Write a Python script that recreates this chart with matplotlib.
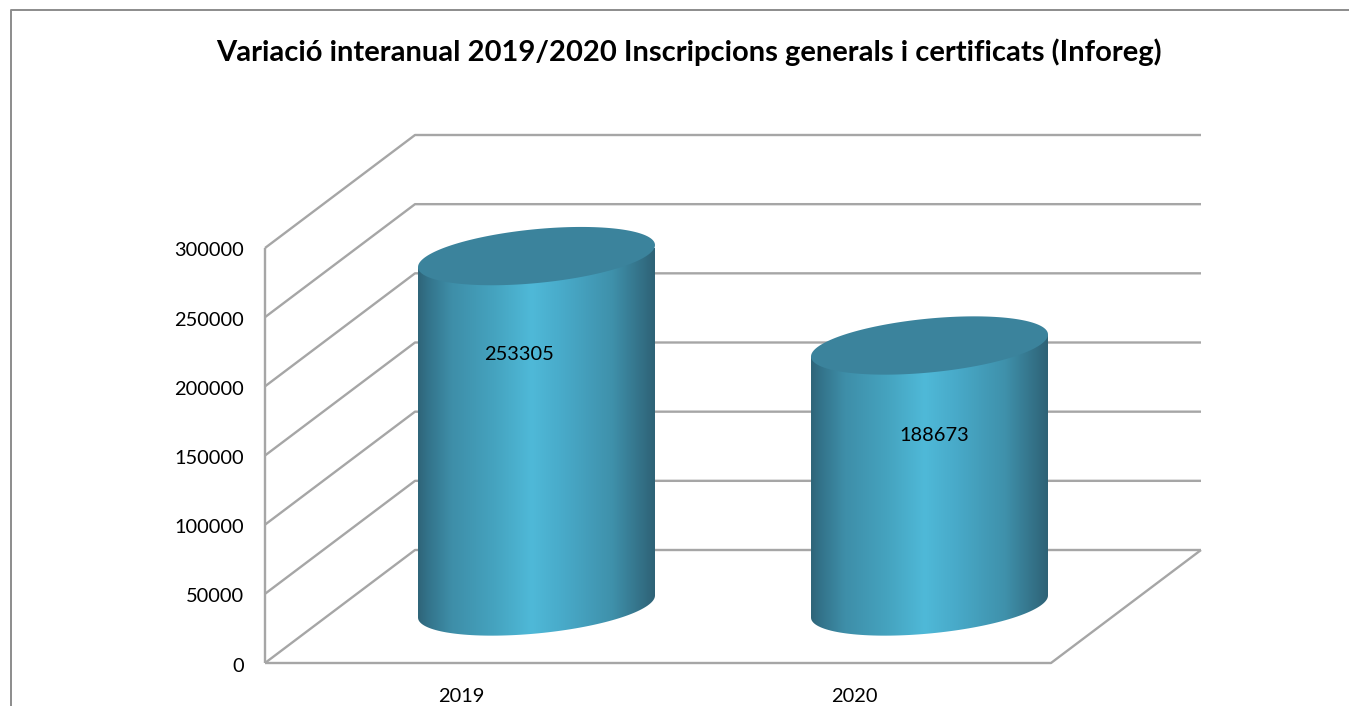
import numpy as np
from matplotlib import pyplot as plt
from matplotlib.colors import LinearSegmentedColormap
from matplotlib.lines import Line2D
from matplotlib.patches import Polygon

years = ['2019', '2020']
inscriptions = [253305, 188673]
y_ticks = [0, 50000, 100000, 150000, 200000, 250000, 300000]
title = 'Variació interanual 2019/2020 Inscripcions generals i certificats (Inforeg)'

GRID = '#a6a6a6'
TOP_COLOR = '#3b839c'
FONT = 'Lato'

W, H = 1349, 706
fig = plt.figure(figsize=(W / 100, H / 100), dpi=100)

# axes cover the front plane of the 3D box
left, right, bottom, top = 265, 1051, 663, 248
ax = fig.add_axes([left / W, 1 - bottom / H, (right - left) / W, (bottom - top) / H])
ax.set_xlim(-0.5, 1.5)
ax.set_ylim(0, 300000)
ax.axis('off')

# pixel to data scale
px_x = 2 / (right - left)
px_y = 300000 / (bottom - top)
depth_x, depth_y = 150 * px_x, 113 * px_y
x0, x1 = -0.5, 1.5


def line(xs, ys, z=1):
    ax.plot(xs, ys, color=GRID, lw=1.7, zorder=z, clip_on=False, solid_capstyle='butt')


# walls and grid
for t in y_ticks:
    line([x0, x0 + depth_x, x1 + depth_x], [t, t + depth_y, t + depth_y])
line([x0, x0], [0, 300000])
line([x0, x1, x1 + depth_x], [0, 0, depth_y])

cmap = LinearSegmentedColormap.from_list('cyl', [
    (0.0, '#2f6579'), (0.04, '#33738a'), (0.14, '#3e8ea8'), (0.32, '#45a3bf'),
    (0.48, '#4fb9d8'), (0.62, '#48a9c8'), (0.82, '#3f91ab'), (0.95, '#336f85'), (1.0, '#2e6276'),
])

half_w = 118.5 * px_x
tilt = 11 * px_y
half_h = 27 * px_y
t_arc = np.linspace(np.pi, 0, 80)
t_full = np.linspace(0, 2 * np.pi, 160)

for i, (year, value) in enumerate(zip(years, inscriptions)):
    cx = i + depth_x / 2
    base = depth_y / 2

    # lower arc of the bottom ellipse, then up to the top ellipse
    arc_x = cx + half_w * np.cos(t_arc)
    arc_y = base + tilt * np.cos(t_arc) - half_h * np.sin(t_arc)
    body_x = np.r_[cx - half_w, arc_x, cx + half_w]
    body_y = np.r_[base + value - tilt, arc_y, base + value + tilt]
    body = Polygon(np.c_[body_x, body_y], closed=True, transform=ax.transData, fc='none', ec='none')
    ax.add_patch(body)
    im = ax.imshow(np.linspace(0, 1, 256).reshape(1, -1), cmap=cmap, aspect='auto', zorder=3,
                   extent=[cx - half_w, cx + half_w, 0, base + value + 2 * half_h])
    im.set_clip_path(body)

    top_x = cx + half_w * np.cos(t_full)
    top_y = base + value + tilt * np.cos(t_full) + half_h * np.sin(t_full)
    ax.fill(top_x, top_y, color=TOP_COLOR, lw=0, zorder=4, clip_on=False)

ax.set_xlim(-0.5, 1.5)
ax.set_ylim(0, 300000)

# labels, placed by hand in the original
label_offsets = [(-18, -98), (5, -90)]
for i, value in enumerate(inscriptions):
    ax.annotate(str(value), (i + depth_x / 2, depth_y / 2 + value), xytext=label_offsets[i],
                textcoords='offset pixels', ha='center', va='center', fontsize=14.4,
                family=FONT, color='black', zorder=5)

for t in y_ticks:
    ax.annotate(str(t), (x0, t), xytext=(-21, -3), textcoords='offset pixels', ha='right',
                va='center', fontsize=14.4, family=FONT, color='black', annotation_clip=False)

for i, year in enumerate(years):
    ax.annotate(year, (i, 0), xytext=(0, -34), textcoords='offset pixels', ha='center',
                va='center', fontsize=14.4, family=FONT, color='black', annotation_clip=False)

fig.text(689 / W, 1 - 52 / H, title, ha='center', va='center', fontsize=21,
         fontweight='bold', family=FONT, color='black')

# outer frame, cut off at the bottom and right of the picture
fig.add_artist(Line2D([11 / W, 11 / W, 1], [0, 1 - 10 / H, 1 - 10 / H], color='#8c8c8c', lw=1.4))

fig.savefig('out.png', dpi=100)
